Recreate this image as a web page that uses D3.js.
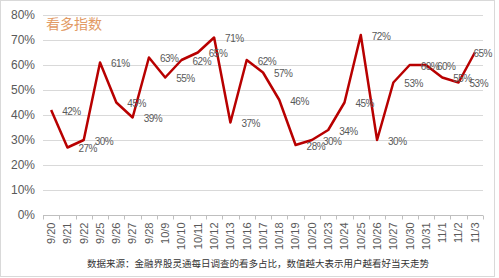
<!DOCTYPE html>
<html>
<head>
<meta charset="utf-8">
<script src="https://cdn.jsdelivr.net/npm/d3@7"></script>
<style>
  body { margin: 0; background: #fff; }
  text { font-family: "Liberation Sans", Arial, sans-serif; }
</style>
</head>
<body>
<div id="chart"></div>
<script>
// dates (x categories) and the bullish share for each day
let dates = ["9/20","9/21","9/22","9/25","9/26","9/27","9/28","10/9","10/10","10/11","10/12","10/13",
  "10/16","10/17","10/18","10/19","10/20","10/23","10/24","10/25","10/26","10/27","10/30","10/31",
  "11/1","11/2","11/3"];
let values = [42,27,30,61,45,39,63,55,62,65,71,37,62,57,46,28,30,34,45,72,30,53,60,60,55,53,65];
let yTicks = [0,10,20,30,40,50,60,70,80];
let title = "看多指数";
let note = "数据来源：金融界股灵通每日调查的看多占比，数值越大表示用户越看好当天走势";

let W = 499, H = 278;
let margin = {top: 15, right: 16, bottom: 63, left: 43},
    width = 483 - margin.left,
    height = 215 - margin.top;

let root = d3.select("#chart")
  .append("svg")
    .attr("width", W)
    .attr("height", H);

root.append("rect")
  .attr("x", 0.5).attr("y", 0.5)
  .attr("width", 494).attr("height", 276)
  .attr("fill", "#fff")
  .attr("stroke", "#d9d9d9");

let svg = root.append("g")
  .attr("transform", "translate(" + margin.left + "," + margin.top + ")");

let x = d3.scaleBand()
  .domain(dates)
  .range([0, width]);

let y = d3.scaleLinear()
  .domain([0, 80])
  .range([height, 0]);

// gridlines
svg.append("g")
  .selectAll("line")
  .data(yTicks.filter(d => d > 0))
  .join("line")
    .attr("x1", 0).attr("x2", width)
    .attr("y1", d => Math.round(y(d)) + 0.5)
    .attr("y2", d => Math.round(y(d)) + 0.5)
    .attr("stroke", "#d9d9d9");

// y labels
svg.append("g")
  .selectAll("text")
  .data(yTicks)
  .join("text")
    .attr("x", -8)
    .attr("y", d => y(d))
    .attr("dy", "0.35em")
    .attr("text-anchor", "end")
    .attr("font-size", 12)
    .attr("fill", "#595959")
    .text(d => d + "%");

// x axis with ticks at category boundaries
let xAxis = svg.append("g")
  .attr("transform", "translate(0," + (Math.round(height) + 0.5) + ")");
xAxis.append("line")
  .attr("x1", 0).attr("x2", width)
  .attr("stroke", "#bfbfbf");
xAxis.selectAll(".tk")
  .data(d3.range(dates.length + 1))
  .join("line")
    .attr("class", "tk")
    .attr("x1", i => Math.round(i * x.step()) + 0.5)
    .attr("x2", i => Math.round(i * x.step()) + 0.5)
    .attr("y1", 0).attr("y2", 4)
    .attr("stroke", "#bfbfbf");
xAxis.selectAll("text")
  .data(dates)
  .join("text")
    .attr("transform", d => "translate(" + (x(d) + x.bandwidth() / 2) + ",7) rotate(-90)")
    .attr("dy", "0.35em")
    .attr("text-anchor", "end")
    .attr("font-size", 11)
    .attr("fill", "#595959")
    .text(d => d);

// the line
let pts = dates.map((d, i) => ({date: d, value: values[i]}));
svg.append("path")
  .datum(pts)
  .attr("fill", "none")
  .attr("stroke", "#b80000")
  .attr("stroke-width", 2.5)
  .attr("stroke-linejoin", "round")
  .attr("d", d3.line()
    .x(d => x(d.date) + x.bandwidth() / 2)
    .y(d => y(d.value))
  );

// data labels, kept inside the frame
let maxRight = 492 - margin.left;
svg.append("g")
  .selectAll("text")
  .data(pts)
  .join("text")
    .attr("y", d => y(d.value) + 1)
    .attr("dy", "0.35em")
    .attr("font-size", 10)
    .attr("letter-spacing", -0.5)
    .attr("fill", "#595959")
    .text(d => d.value + "%")
    .attr("x", function(d) {
      let w = this.getComputedTextLength();
      return Math.min(x(d.date) + x.bandwidth() / 2 + 11, maxRight - w);
    });

// title
root.append("text")
  .attr("x", 46).attr("y", 29)
  .attr("font-size", 14)
  .attr("fill", "#e29a64")
  .style("font-family", "'Noto Sans CJK SC', sans-serif")
  .text(title);

// footnote
root.append("text")
  .attr("x", 258).attr("y", 267)
  .attr("text-anchor", "middle")
  .attr("font-size", 9.5)
  .attr("fill", "#333")
  .style("font-family", "'Noto Sans CJK SC', sans-serif")
  .text(note);
</script>
</body>
</html>
